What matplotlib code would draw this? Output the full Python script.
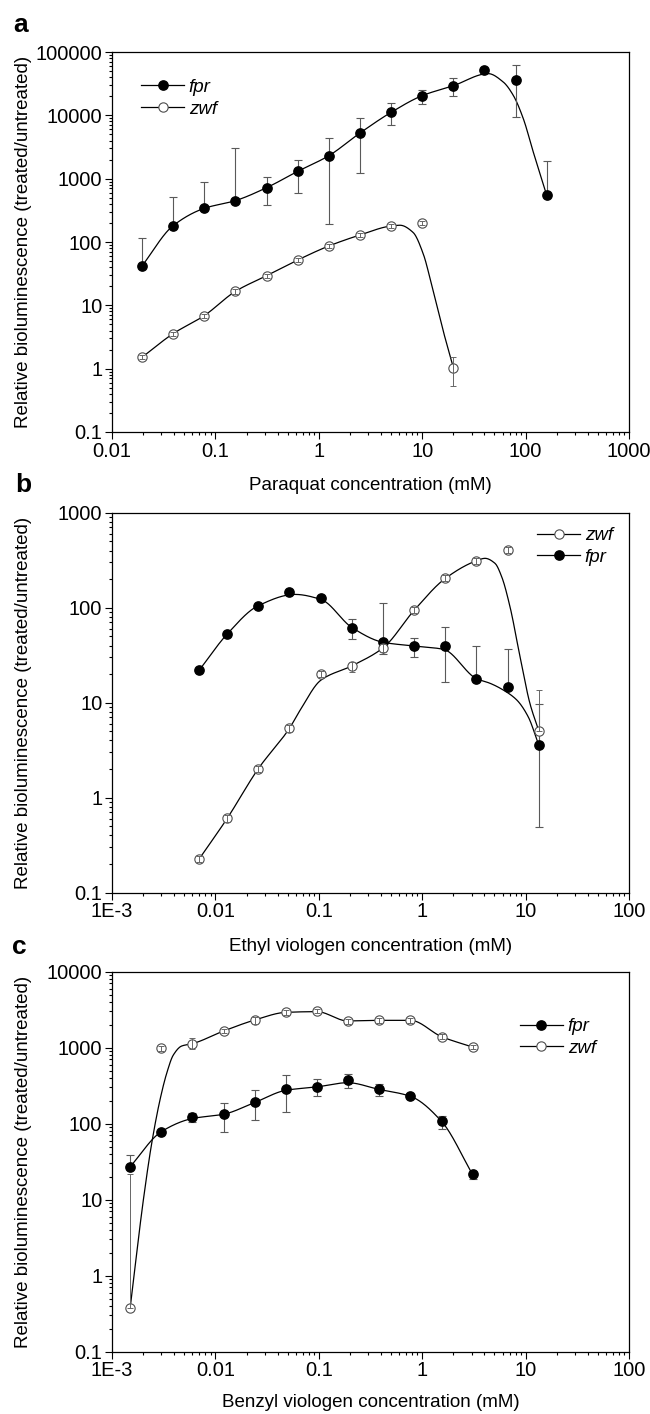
import numpy as np
import matplotlib
matplotlib.use("Agg")
import matplotlib.pyplot as plt
from matplotlib.lines import Line2D
from matplotlib.ticker import NullFormatter, LogLocator

plt.rcParams["font.family"] = ["Liberation Sans", "DejaVu Sans"]

# ---- a: paraquat -------------------------------------------------------
pq_x = [0.0195, 0.039, 0.078, 0.156, 0.3125, 0.625, 1.25, 2.5, 5, 10, 20, 40, 80, 160]
pq_fpr = [41.8, 181, 348, 439, 721, 1305, 2306, 5260, 11150, 20470, 29400, 52000, 35700, 546]
pq_fpr_lo = [41.8, 181, 348, 439, 388, 594, 190, 1244, 7130, 15290, 19950, 52000, 9420, 546]
pq_fpr_hi = [117, 514, 886, 3050, 1063, 1972, 4434, 9190, 15660, 25400, 38800, 52000, 62300, 1925]
pq_zwf = [1.51, 3.57, 6.87, 16.6, 29.4, 52, 86.5, 129, 179, 202, 1.04]
pq_zwf_lo = [1.40, 3.30, 6.35, 15.3, 27.2, 48, 80, 119, 166, 187, 0.53]
pq_zwf_hi = [1.63, 3.85, 7.40, 17.9, 31.7, 56, 93, 139, 193, 217, 1.52]
# fitted curves
pq_fpr_fit_x = [0.0195, 0.039, 0.078, 0.156, 0.3125, 0.625, 1.25, 2.5, 5, 10, 20,
                43.5, 60.8, 76, 95, 118.6, 160]
pq_fpr_fit_y = [41.8, 181, 340, 450, 721, 1305, 2306, 5260, 11150, 20470, 29400,
                45600, 33600, 20700, 8880, 2640, 546]
pq_zwf_fit_x = [0.0195, 0.039, 0.078, 0.156, 0.3125, 0.625, 1.25, 2.5, 5, 6.1, 8.15,
                10.2, 12.7, 15.9, 20]
pq_zwf_fit_y = [1.51, 3.57, 6.87, 16.6, 29.4, 52, 86.5, 129, 179, 184, 142, 66, 17.3,
                4.04, 1.04]

# ---- b: ethyl viologen -------------------------------------------------
ev_x = [0.0070, 0.013, 0.026, 0.052, 0.105, 0.21, 0.42, 0.84, 1.68, 3.35, 6.7, 13.4]
ev_fpr = [22.1, 52.8, 105, 145, 126, 61.6, 43.2, 39.5, 39.5, 17.9, 14.7, 3.58]
ev_fpr_lo = [22.1, 52.8, 105, 145, 126, 46.5, 32.6, 30.5, 16.6, 17.9, 14.7, 0.49]
ev_fpr_hi = [22.1, 52.8, 105, 145, 126, 76.5, 113, 48.3, 62.2, 39.5, 36.4, 9.7]
ev_zwf = [0.228, 0.605, 2.02, 5.37, 20.2, 24.5, 37.9, 94.5, 204, 312, 404, 5.07]
ev_zwf_lo = [0.211, 0.56, 1.87, 4.97, 18.7, 21.0, 34.5, 87.5, 189, 289, 374, 5.07]
ev_zwf_hi = [0.246, 0.65, 2.18, 5.80, 21.8, 27.0, 41.5, 102, 220, 337, 436, 13.6]
ev_fpr_fit_x = [0.0070, 0.013, 0.026, 0.0589, 0.105, 0.21, 0.42, 0.84, 1.6, 3.35, 4.53,
                6.08, 8.2, 10.6, 13.4]
ev_fpr_fit_y = [22.1, 52.8, 105, 138, 122, 61.6, 43.2, 39.5, 36.5, 17.9, 16, 13.6,
                10.7, 7.1, 3.58]
ev_zwf_fit_x = [0.0070, 0.013, 0.026, 0.052, 0.0658, 0.105, 0.21, 0.42, 0.84, 1.68, 3.35,
                4.05, 5.06, 5.87, 7.07, 8.83, 11.0, 13.4]
ev_zwf_fit_y = [0.228, 0.605, 2.02, 5.37, 8.3, 17.3, 24.5, 37.9, 94.5, 204, 312, 331,
                293, 212, 102, 30.5, 9.86, 5.07]

# ---- c: benzyl viologen ------------------------------------------------
bv_x = [0.0015, 0.003, 0.006, 0.012, 0.024, 0.048, 0.096, 0.19, 0.38, 0.77, 1.54, 3.07]
bv_fpr = [27.2, 78.5, 121, 133, 195, 286, 307, 372, 283, 229, 107, 21.5]
bv_fpr_lo = [27.2, 78.5, 106, 77, 112, 141, 231, 295, 231, 229, 86, 18.5]
bv_fpr_hi = [38.7, 78.5, 138, 189, 277, 433, 383, 450, 333, 229, 127, 23.4]
bv_zwf = [0.38, 980, 1130, 1657, 2312, 2917, 3037, 2220, 2290, 2290, 1396, 1020]
bv_zwf_lo = [0.38, 910, 950, 1540, 2070, 2710, 2820, 2060, 2130, 2130, 1300, 950]
bv_zwf_hi = [21.6, 1055, 1355, 1780, 2560, 3140, 3270, 2390, 2460, 2460, 1500, 1095]
bv_fpr_fit_x = bv_x
bv_fpr_fit_y = [27.2, 78.5, 117, 133, 190, 275, 305, 346, 283, 229, 107, 21.5]
bv_zwf_fit_x = [0.0015, 0.00201, 0.00242, 0.00291, 0.00338, 0.00392, 0.00472, 0.006,
                0.012, 0.024, 0.048, 0.096, 0.19, 0.38, 0.77, 1.54, 3.07]
bv_zwf_fit_y = [0.38, 9.9, 55, 205, 460, 802, 1052, 1130, 1657, 2312, 2917, 2980, 2250,
                2290, 2290, 1396, 1020]

x_ticks_a = [0.01, 0.1, 1, 10, 100, 1000]
x_labels_a = ["0.01", "0.1", "1", "10", "100", "1000"]
x_ticks_bc = [0.001, 0.01, 0.1, 1, 10, 100]
x_labels_bc = ["1E-3", "0.01", "0.1", "1", "10", "100"]
y_ticks_a = [0.1, 1, 10, 100, 1000, 10000, 100000]
y_labels_a = ["0.1", "1", "10", "100", "1000", "10000", "100000"]
y_ticks_b = [0.1, 1, 10, 100, 1000]
y_labels_b = ["0.1", "1", "10", "100", "1000"]
y_ticks_c = [0.1, 1, 10, 100, 1000, 10000]
y_labels_c = ["0.1", "1", "10", "100", "1000", "10000"]

YLABEL = "Relative bioluminescence (treated/untreated)"
FS = 13.5
MS = 6.7


def pchip(x, y, xq):
    # monotone cubic (Fritsch-Carlson) so the drawn curve doesn't overshoot
    x = np.asarray(x, float)
    y = np.asarray(y, float)
    h = np.diff(x)
    d = np.diff(y) / h
    m = np.zeros_like(y)
    m[0], m[-1] = d[0], d[-1]
    for k in range(1, len(x) - 1):
        if d[k - 1] * d[k] > 0:
            w1 = 2 * h[k] + h[k - 1]
            w2 = h[k] + 2 * h[k - 1]
            m[k] = (w1 + w2) / (w1 / d[k - 1] + w2 / d[k])
    i = np.clip(np.searchsorted(x, xq) - 1, 0, len(h) - 1)
    t = (xq - x[i]) / h[i]
    return ((2 * t**3 - 3 * t**2 + 1) * y[i] + (t**3 - 2 * t**2 + t) * h[i] * m[i]
            + (-2 * t**3 + 3 * t**2) * y[i + 1] + (t**3 - t**2) * h[i] * m[i + 1])


def curve(ax, fx, fy):
    lx, ly = np.log10(fx), np.log10(fy)
    q = np.linspace(lx[0], lx[-1], 600)
    ax.plot(10**q, 10**pchip(lx, ly, q), color="k", lw=0.9, zorder=2)


def series(ax, x, y, lo, hi, filled):
    x = np.asarray(x[:len(y)])
    y, lo, hi = map(np.asarray, (y, lo, hi))
    yerr = [y - lo, hi - y]
    if filled:
        ax.errorbar(x, y, yerr=yerr, fmt="none", ecolor="0.35", elinewidth=0.8,
                    capsize=3, capthick=0.8, zorder=2.5)
        ax.plot(x, y, "o", color="k", ms=MS, zorder=3)
    else:
        ax.plot(x, y, "o", mfc="white", mec="0.3", mew=0.8, ms=MS, zorder=3)
        ax.errorbar(x, y, yerr=yerr, fmt="none", ecolor="0.4", elinewidth=0.7,
                    capsize=2, capthick=0.7, zorder=4)


def style(ax, xlim, ylim, xt, xl, yt, yl, xlabel, xlab_y):
    ax.set_xscale("log")
    ax.set_yscale("log")
    ax.set_xlim(*xlim)
    ax.set_ylim(*ylim)
    ax.set_xticks(xt, labels=xl)
    ax.set_yticks(yt, labels=yl)
    ax.xaxis.set_minor_locator(LogLocator(base=10, subs=np.arange(2, 10)))
    ax.yaxis.set_minor_locator(LogLocator(base=10, subs=np.arange(2, 10)))
    ax.xaxis.set_minor_formatter(NullFormatter())
    ax.yaxis.set_minor_formatter(NullFormatter())
    ax.tick_params(which="both", direction="out", top=False, right=False,
                   width=0.8, labelsize=14.5)
    ax.tick_params(which="major", length=5, pad=2)
    ax.tick_params(which="minor", length=2.5)
    for s in ax.spines.values():
        s.set_linewidth(0.9)
    ax.set_xlabel(xlabel, fontsize=FS, va="center")
    ax.xaxis.set_label_coords(0.5, xlab_y)
    ax.set_ylabel(YLABEL, fontsize=FS, va="center")
    ax.yaxis.set_label_coords(-0.172, 0.5)


def legend(ax, order, x0, yc):
    h = {
        "fpr": Line2D([], [], color="k", lw=0.9, marker="o", ms=MS, mfc="k", mec="k"),
        "zwf": Line2D([], [], color="k", lw=0.9, marker="o", ms=MS, mfc="white",
                      mec="0.3", mew=0.8),
    }
    leg = ax.legend([h[k] for k in order], order, loc="center left",
                    bbox_to_anchor=(x0, yc), frameon=False, borderpad=0,
                    borderaxespad=0, handlelength=2.3, handletextpad=0.25,
                    labelspacing=0.25, numpoints=1,
                    prop={"size": FS, "style": "italic"})
    return leg


fig = plt.figure(figsize=(6.5, 14.14), dpi=100)
L, W, H = 0.1723, 0.7954, 0.2687

ax = fig.add_axes([L, 0.6945, W, H])
curve(ax, pq_fpr_fit_x, pq_fpr_fit_y)
curve(ax, pq_zwf_fit_x, pq_zwf_fit_y)
series(ax, pq_x, pq_fpr, pq_fpr_lo, pq_fpr_hi, True)
series(ax, pq_x, pq_zwf, pq_zwf_lo, pq_zwf_hi, False)
style(ax, (0.01, 1000), (0.1, 100000), x_ticks_a, x_labels_a, y_ticks_a, y_labels_a,
      "Paraquat concentration (mM)", -0.141)
legend(ax, ["fpr", "zwf"], 0.056, 0.878)

ax = fig.add_axes([L, 0.3687, W, H])
curve(ax, ev_fpr_fit_x, ev_fpr_fit_y)
curve(ax, ev_zwf_fit_x, ev_zwf_fit_y)
series(ax, ev_x, ev_fpr, ev_fpr_lo, ev_fpr_hi, True)
series(ax, ev_x, ev_zwf, ev_zwf_lo, ev_zwf_hi, False)
style(ax, (0.001, 100), (0.1, 1000), x_ticks_bc, x_labels_bc, y_ticks_b, y_labels_b,
      "Ethyl viologen concentration (mM)", -0.142)
legend(ax, ["zwf", "fpr"], 0.822, 0.911)

ax = fig.add_axes([L, 0.0441, W, H])
curve(ax, bv_fpr_fit_x, bv_fpr_fit_y)
curve(ax, bv_zwf_fit_x, bv_zwf_fit_y)
series(ax, bv_x, bv_fpr, bv_fpr_lo, bv_fpr_hi, True)
series(ax, bv_x, bv_zwf, bv_zwf_lo, bv_zwf_hi, False)
style(ax, (0.001, 100), (0.1, 10000), x_ticks_bc, x_labels_bc, y_ticks_c, y_labels_c,
      "Benzyl viologen concentration (mM)", -0.135)
legend(ax, ["fpr", "zwf"], 0.789, 0.827)

for letter, px, py in [("a", 21, 25), ("b", 23, 485), ("c", 19, 947)]:
    fig.text(px / 650, 1 - py / 1414, letter, fontsize=19, fontweight="bold",
             ha="center", va="center")

fig.savefig("out.png", dpi=100)
